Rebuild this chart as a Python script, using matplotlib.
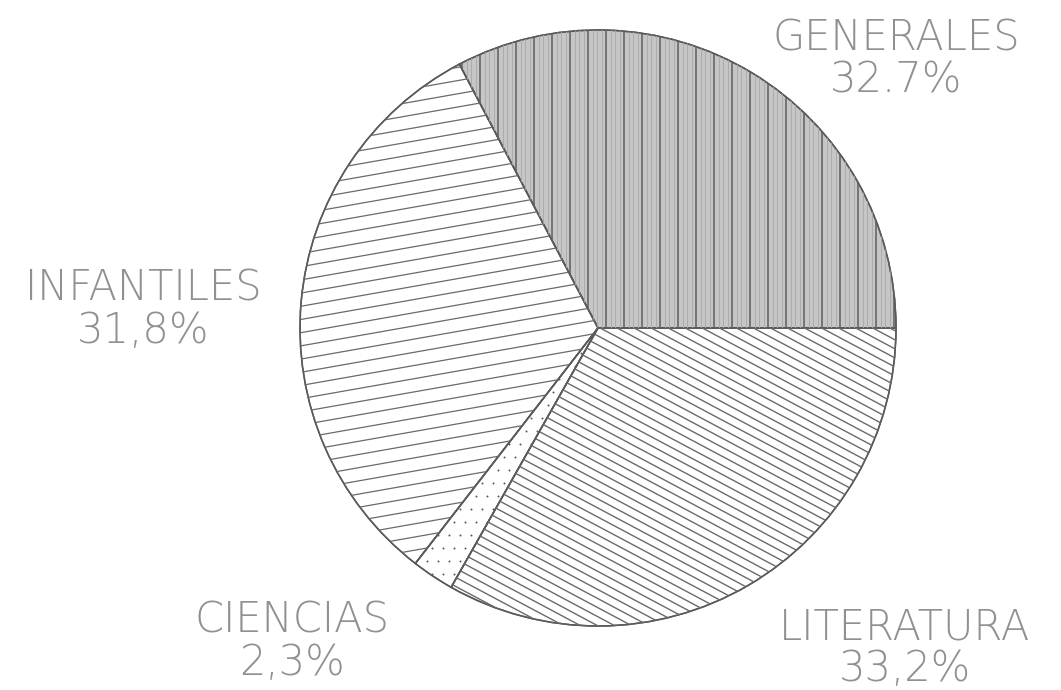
import numpy as np
import matplotlib.pyplot as plt
from matplotlib.patches import Wedge

# data
labels = ["GENERALES", "INFANTILES", "CIENCIAS", "LITERATURA"]
values = [32.7, 31.8, 2.3, 33.2]
pct_text = ["32.7%", "31,8%", "2,3%", "33,2%"]

W, H = 1061, 690
fig = plt.figure(figsize=(W / 100, H / 100), dpi=100)
ax = fig.add_axes([0, 0, 1, 1])

cx, cy, r = 598, H - 328, 298

fills = ["#c6c6c6", "white", "white", "white"]
wedges, _ = ax.pie(values, startangle=0, counterclock=True, center=(cx, cy),
                   radius=r, colors=fills, frame=True,
                   wedgeprops=dict(edgecolor="#5a5a5a", linewidth=1.1))
ax.set_xlim(0, W)
ax.set_ylim(0, H)
ax.set_aspect("equal")
ax.axis("off")


def hatch_lines(wedge, angle, spacing, color, lw):
    th = np.deg2rad(angle)
    d = np.array([np.cos(th), np.sin(th)])
    n = np.array([-np.sin(th), np.cos(th)])
    for k in np.arange(-r * 1.5, r * 1.5, spacing):
        p = np.array([cx, cy]) + n * k
        a = p - d * r * 1.6
        b = p + d * r * 1.6
        ln, = ax.plot([a[0], b[0]], [a[1], b[1]], color=color, lw=lw)
        ln.set_clip_path(wedge)


# generales: grey with vertical streaks
xs = np.arange(cx - r, cx + r, 4.5)
for i, x in enumerate(xs):
    shade = "#5e5e5e" if i % 4 == 0 else "#a8a8a8"
    lw = 1.1 if i % 4 == 0 else 0.6
    ln, = ax.plot([x, x], [cy - r, cy + r], color=shade, lw=lw)
    ln.set_clip_path(wedges[0])

# infantiles: shallow rising lines
hatch_lines(wedges[1], 10, 13, "#6a6a6a", 0.9)
# literatura: descending diagonals
hatch_lines(wedges[3], -28, 8, "#6a6a6a", 1.0)
# ciencias: dots
gx, gy = np.meshgrid(np.arange(cx - r, cx + r, 11), np.arange(cy - r, cy + r, 13))
gx = gx + (np.arange(gx.shape[0])[:, None] % 2) * 5.5
pts = ax.scatter(gx.ravel(), gy.ravel(), s=2, color="#555555", lw=0)
pts.set_clip_path(wedges[2])

# redraw outlines on top
for w in wedges:
    ax.add_patch(Wedge(w.center, w.r, w.theta1, w.theta2, fill=False,
                       edgecolor="#5a5a5a", lw=1.1))

txt_pos = [(896, 38), (143, 288), (292, 620), (905, 627)]
for (x, y), lab, pct in zip(txt_pos, labels, pct_text):
    ax.text(x, H - y, lab, ha="center", va="center", fontsize=30,
            family="DejaVu Sans", fontweight="ultralight", color="#909090")
    ax.text(x, H - y - 42, pct, ha="center", va="center", fontsize=30,
            family="DejaVu Sans", fontweight="ultralight", color="#909090")

fig.savefig("out.png", dpi=100, facecolor="white")
